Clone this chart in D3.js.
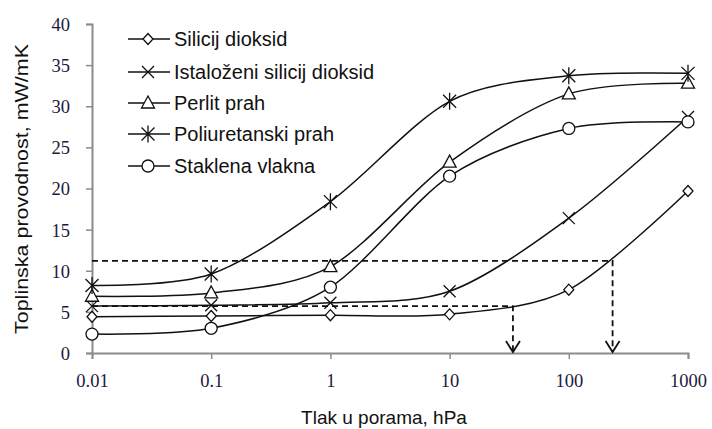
<!DOCTYPE html>
<html>
<head>
  <meta charset="utf-8">
  <script src="https://cdn.jsdelivr.net/npm/d3@7"></script>
  <style type="text/css">
    body { margin: 0; background: #fff; }
    .tick text { font-family: "Liberation Serif", "DejaVu Serif", serif; font-size: 18.5px; fill: #1a1a40; }
    .title { font-family: "Liberation Sans", Arial, sans-serif; font-size: 19px; fill: #111; }
    .legend text { font-family: "Liberation Sans", Arial, sans-serif; font-size: 20px; fill: #111; }
  </style>
</head>
<body>
<script type="text/javascript">
  // pressure in pores, hPa
  var pressures = [0.01, 0.1, 1, 10, 100, 1000];
  var xTicks = [0.01, 0.1, 1, 10, 100, 1000];
  var yTicks = [0, 5, 10, 15, 20, 25, 30, 35, 40];

  // thermal conductivity, mW/mK
  var silicijDioksid = [4.4, 4.5, 4.6, 4.7, 7.7, 19.7];
  var istalozeniSilicij = [5.7, 5.8, 6.1, 7.5, 16.4, 28.7];
  var perlitPrah = [6.9, 7.3, 10.5, 23.2, 31.5, 32.8];
  var poliuretanskiPrah = [8.2, 9.6, 18.4, 30.6, 33.7, 34.0];
  var staklenaVlakna = [2.3, 3.0, 8.0, 21.5, 27.3, 28.1];

  var seriesNames = ["Silicij dioksid", "Istaloženi silicij dioksid", "Perlit prah",
                     "Poliuretanski prah", "Staklena vlakna"];
  var markers = ["diamond", "cross", "triangle", "asterisk", "circle"];

  // dashed guide lines: [conductivity, pressure where it meets the curve]
  var guideLevels = [11.2, 5.7];
  var guidePressures = [233, 34];

  var width = 712, height = 429;
  var margin = {left: 92, right: 24, top: 24, bottom: 76};

  var svg = d3.select("body").append("svg")
      .attr("width", width)
      .attr("height", height);

  var x = d3.scaleLog().domain([0.01, 1000]).range([margin.left, width - margin.right]);
  var y = d3.scaleLinear().domain([0, 40]).range([height - margin.bottom, margin.top]);

  var axisColor = "#8c8c8c";

  // x axis
  var xAxis = svg.append("g")
      .attr("transform", "translate(0," + y(0) + ")")
      .call(d3.axisBottom(x).tickValues(xTicks).tickFormat(function (d) { return String(d); })
        .tickSize(6).tickPadding(15));
  // y axis
  var yAxis = svg.append("g")
      .attr("transform", "translate(" + x(0.01) + ",0)")
      .call(d3.axisLeft(y).tickValues(yTicks).tickSize(6).tickPadding(16));

  [xAxis, yAxis].forEach(function (g) {
    g.select(".domain").attr("stroke", axisColor).attr("stroke-width", 2);
    g.selectAll(".tick line").attr("stroke", axisColor).attr("stroke-width", 1.5);
  });
  yAxis.selectAll(".tick text").attr("dy", "0.35em");

  // dashed guides
  var guides = svg.append("g")
      .attr("fill", "none")
      .attr("stroke", "#111")
      .attr("stroke-width", 1.8)
      .attr("stroke-dasharray", "6,4");
  guideLevels.forEach(function (v, i) {
    var px = x(guidePressures[i]);
    guides.append("path")
      .attr("d", "M" + x(0.01) + "," + y(v) + "H" + px + "V" + (y(0) - 1));
    svg.append("path")
      .attr("d", "M" + (px - 7) + "," + (y(0) - 12) + "L" + px + "," + (y(0) - 1) + "L" + (px + 7) + "," + (y(0) - 12))
      .attr("fill", "none")
      .attr("stroke", "#111")
      .attr("stroke-width", 1.8);
  });

  var allSeries = [silicijDioksid, istalozeniSilicij, perlitPrah, poliuretanskiPrah, staklenaVlakna];

  var line = d3.line()
      .x(function (d) { return x(d[0]); })
      .y(function (d) { return y(d[1]); })
      .curve(d3.curveCardinal.tension(0.1));

  function drawMarker(g, type, cx, cy) {
    var m = g.append("g").attr("transform", "translate(" + cx + "," + cy + ")")
        .attr("stroke", "#111").attr("stroke-width", 1.3).attr("fill", "#fff");
    if (type === "diamond") {
      m.append("path").attr("d", "M0,-5.5L5,0L0,5.5L-5,0Z");
    } else if (type === "cross") {
      m.append("path").attr("d", "M-6,-6L6,6M-6,6L6,-6").attr("fill", "none");
    } else if (type === "triangle") {
      m.append("path").attr("d", "M0,-7L6.5,5L-6.5,5Z");
    } else if (type === "asterisk") {
      m.append("path").attr("d", "M-6.5,-6.5L6.5,6.5M-6.5,6.5L6.5,-6.5M0,-8.5V8.5").attr("fill", "none");
    } else if (type === "circle") {
      m.append("circle").attr("r", 6);
    }
  }

  allSeries.forEach(function (vals, i) {
    var pts = pressures.map(function (p, j) { return [p, vals[j]]; });
    svg.append("path")
      .datum(pts)
      .attr("d", line)
      .attr("fill", "none")
      .attr("stroke", "#111")
      .attr("stroke-width", 1.5);
    var mg = svg.append("g");
    pts.forEach(function (d) { drawMarker(mg, markers[i], x(d[0]), y(d[1])); });
  });

  // legend
  var legend = svg.append("g").attr("class", "legend");
  var legendY = [39, 72, 103, 134, 166];
  seriesNames.forEach(function (name, i) {
    var row = legend.append("g").attr("transform", "translate(128," + legendY[i] + ")");
    row.append("line").attr("x1", 0).attr("x2", 42).attr("stroke", "#111").attr("stroke-width", 1.5);
    var mg = row.append("g");
    drawMarker(mg, markers[i], 20, 0);
    row.append("text").attr("x", 46).attr("dy", "0.35em").text(name);
  });

  // axis titles
  svg.append("text")
      .attr("class", "title")
      .attr("text-anchor", "middle")
      .attr("x", 384)
      .attr("y", 424)
      .text("Tlak u porama, hPa");
  svg.append("text")
      .attr("class", "title")
      .attr("text-anchor", "middle")
      .attr("transform", "translate(28," + 189 + ") rotate(-90)")
      .attr("textLength", 290)
      .attr("lengthAdjust", "spacingAndGlyphs")
      .text("Toplinska provodnost, mW/mK");
</script>
</body>
</html>
